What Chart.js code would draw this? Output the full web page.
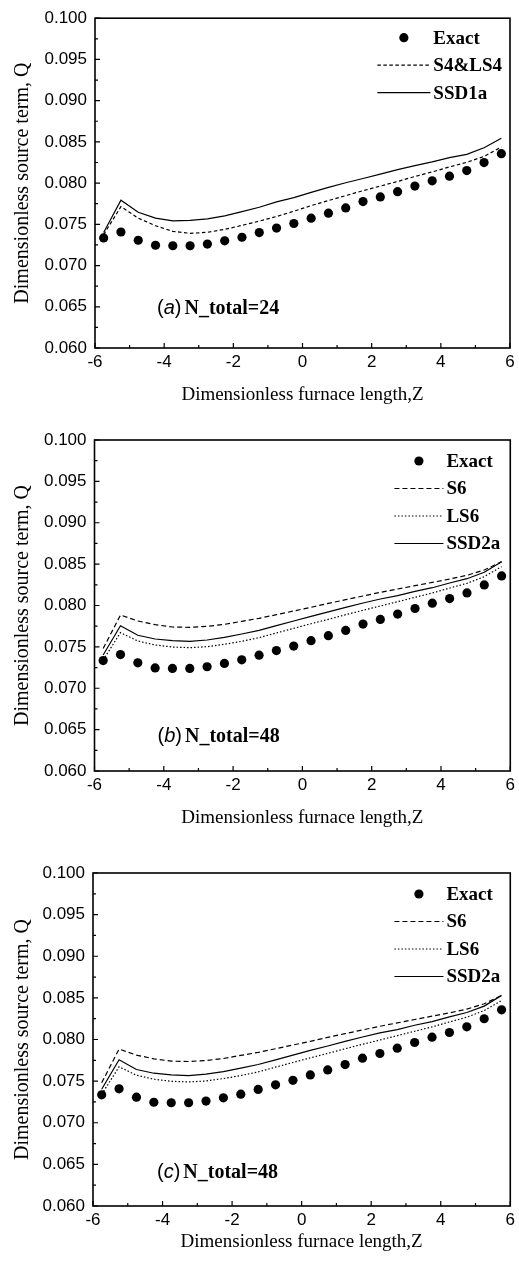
<!DOCTYPE html>
<html>
<head>
<meta charset="utf-8">
<script src="https://cdn.jsdelivr.net/npm/chart.js@4.4.1/dist/chart.umd.min.js"></script>
<style>
  html, body { margin: 0; padding: 0; background: #fff; }
  body { width: 519px; height: 1262px; position: relative; overflow: hidden; }
  .panel { position: absolute; left: 0; width: 519px; }
</style>
</head>
<body>
<div class="panel" style="top:0;height:420px"><canvas id="chart-a"></canvas></div>
<div class="panel" style="top:420px;height:420px"><canvas id="chart-b"></canvas></div>
<div class="panel" style="top:840px;height:422px"><canvas id="chart-c"></canvas></div>
<script>
// cell centres along the furnace
const zCells = [-5.75, -5.25, -4.75, -4.25, -3.75, -3.25, -2.75, -2.25, -1.75, -1.25, -0.75, -0.25,
                0.25, 0.75, 1.25, 1.75, 2.25, 2.75, 3.25, 3.75, 4.25, 4.75, 5.25, 5.75];

const exactQ = [0.07335, 0.07407, 0.07307, 0.07246, 0.0724, 0.0724, 0.0726, 0.0730, 0.07343, 0.0740, 0.07455, 0.0751,
                0.07575, 0.07635, 0.07699, 0.07776, 0.07832, 0.07896, 0.07964, 0.08028, 0.08084, 0.08152, 0.08249, 0.08357];
const s4ls4Q = [0.07375, 0.07715, 0.07575, 0.07483, 0.07415, 0.07391, 0.07403, 0.07439, 0.07487, 0.07539, 0.07595, 0.07659,
                0.07727, 0.07788, 0.07848, 0.07908, 0.07964, 0.0802, 0.0808, 0.08136, 0.08196, 0.08252, 0.08324, 0.08437];
const ssd1aQ = [0.0740, 0.07792, 0.07647, 0.07575, 0.07543, 0.07547, 0.07567, 0.07603, 0.07655, 0.07707, 0.07772, 0.07824,
                0.07888, 0.07948, 0.08004, 0.08056, 0.08108, 0.08164, 0.08212, 0.08257, 0.08309, 0.08349, 0.08429, 0.08545];
const s6Q    = [0.0748, 0.07885, 0.07813, 0.07768, 0.0774, 0.07736, 0.07748, 0.07772, 0.07809, 0.07845, 0.07889, 0.07934,
                0.07978, 0.08026, 0.0807, 0.08115, 0.08159, 0.08199, 0.0824, 0.0828, 0.0832, 0.08365, 0.08429, 0.0853];
const ls6Q   = [0.07341, 0.07672, 0.07571, 0.07523, 0.07498, 0.0749, 0.07502, 0.07531, 0.07567, 0.07611, 0.07668, 0.07724,
                0.0778, 0.07833, 0.07889, 0.07942, 0.07994, 0.08046, 0.08099, 0.08151, 0.08211, 0.08268, 0.08348, 0.08469];
const ssd2aQ = [0.07402, 0.07756, 0.0764, 0.07595, 0.07575, 0.07567, 0.07583, 0.07615, 0.07656, 0.077, 0.07756, 0.07813,
                0.07869, 0.07922, 0.07978, 0.0803, 0.08079, 0.08119, 0.08171, 0.08215, 0.08272, 0.08324, 0.08401, 0.0853];

const xTicks = [-6, -4, -2, 0, 2, 4, 6];
const xMinor = [-5, -3, -1, 1, 3, 5];
const yTicks = [0.060, 0.065, 0.070, 0.075, 0.080, 0.085, 0.090, 0.095, 0.100];
const yMinor = [0.0625, 0.0675, 0.0725, 0.0775, 0.0825, 0.0875, 0.0925, 0.0975];

const pts = arr => zCells.map((z, i) => ({ x: z, y: arr[i] }));

const exactSet = () => ({ label: 'Exact', data: pts(exactQ), showLine: false, pointRadius: 4.6,
    pointBackgroundColor: '#000', pointBorderWidth: 0, order: 0 });
const lineSet = (label, arr, dash) => ({ label, data: pts(arr), borderColor: '#000', borderWidth: 1.2,
    borderDash: dash, pointRadius: 0, fill: false, tension: 0, order: 1 });

// frame + inward major/minor tick marks
const frameTicks = {
    id: 'frameTicks',
    afterDatasetsDraw(chart) {
        const { ctx, chartArea: a, scales: { x, y } } = chart;
        ctx.save();
        ctx.strokeStyle = '#000';
        ctx.lineWidth = 1.2;
        ctx.beginPath();
        xTicks.forEach(v => { const p = x.getPixelForValue(v); ctx.moveTo(p, a.bottom); ctx.lineTo(p, a.bottom - 5); });
        xMinor.forEach(v => { const p = x.getPixelForValue(v); ctx.moveTo(p, a.bottom); ctx.lineTo(p, a.bottom - 3); });
        yTicks.forEach(v => { const p = y.getPixelForValue(v); ctx.moveTo(a.left, p); ctx.lineTo(a.left + 5, p); });
        yMinor.forEach(v => { const p = y.getPixelForValue(v); ctx.moveTo(a.left, p); ctx.lineTo(a.left + 3, p); });
        ctx.stroke();
        ctx.lineWidth = 1.6;
        ctx.strokeRect(a.left, a.top, a.right - a.left, a.bottom - a.top);
        ctx.restore();
    }
};

// legend block in the upper right corner
const figLegend = {
    id: 'figLegend',
    afterDatasetsDraw(chart, args, opts) {
        const { ctx, chartArea: a } = chart;
        const sets = chart.data.datasets;
        ctx.save();
        ctx.font = 'bold 19px "Liberation Serif"';
        ctx.textBaseline = 'middle';
        ctx.fillStyle = '#000';
        const maxW = Math.max(...sets.map(d => ctx.measureText(d.label).width));
        const tx = a.right - opts.rightGap - maxW;
        sets.forEach((d, i) => {
            const y = a.top + opts.firstRow + i * opts.rowStep;
            const x0 = tx - opts.sampleLen - 3, x1 = tx - 3;
            if (d.showLine === false) {
                ctx.beginPath();
                ctx.arc((x0 + x1) / 2, y, 4.6, 0, Math.PI * 2);
                ctx.fill();
            } else {
                ctx.beginPath();
                ctx.lineWidth = 1.2;
                ctx.strokeStyle = '#000';
                ctx.setLineDash(d.borderDash || []);
                ctx.moveTo(x0, y);
                ctx.lineTo(x1, y);
                ctx.stroke();
                ctx.setLineDash([]);
            }
            ctx.fillText(d.label, tx, y + 1);
        });
        ctx.restore();
    }
};

// panel tag, e.g. "(a) N_total=24"
const panelTag = {
    id: 'panelTag',
    afterDatasetsDraw(chart, args, opts) {
        const { ctx, chartArea: a } = chart;
        let x = a.left + opts.dx;
        const y = a.bottom - opts.dy;
        ctx.save();
        ctx.fillStyle = '#000';
        ctx.textBaseline = 'middle';
        ctx.font = '20px "Liberation Sans"';
        ctx.fillText('(', x, y); x += ctx.measureText('(').width;
        ctx.font = 'italic 20px "Liberation Sans"';
        ctx.fillText(opts.letter, x, y); x += ctx.measureText(opts.letter).width;
        ctx.font = '20px "Liberation Sans"';
        ctx.fillText(')', x, y); x += ctx.measureText(')').width + 3;
        ctx.font = 'bold 20px "Liberation Serif"';
        ctx.fillText(opts.text, x, y + 1);
        ctx.restore();
    }
};

function makePanel(id, datasets, box, legendOpts, tagOpts) {
    new Chart(document.getElementById(id), {
        type: 'line',
        data: { datasets },
        plugins: [frameTicks, figLegend, panelTag],
        options: {
            responsive: true,
            maintainAspectRatio: false,
            animation: false,
            layout: { padding: { top: box.top, right: box.right, left: 0, bottom: 0 } },
            plugins: {
                legend: { display: false },
                tooltip: { enabled: false },
                figLegend: legendOpts,
                panelTag: tagOpts
            },
            scales: {
                x: {
                    type: 'linear', min: -6, max: 6,
                    afterBuildTicks: s => { s.ticks = xTicks.map(v => ({ value: v })); },
                    afterFit: s => { s.height = box.xHeight; },
                    grid: { display: false, drawTicks: false },
                    border: { display: false },
                    ticks: { color: '#000', padding: 4, maxRotation: 0, autoSkip: false,
                             font: { family: 'Liberation Sans', size: 17 } },
                    title: { display: true, text: 'Dimensionless furnace length,Z', color: '#000',
                             font: { family: 'Liberation Serif', size: 19 },
                             padding: { top: 0, bottom: box.xTitlePad } }
                },
                y: {
                    type: 'linear', min: 0.06, max: 0.1,
                    afterBuildTicks: s => { s.ticks = yTicks.map(v => ({ value: v })); },
                    afterFit: s => { s.width = box.left; },
                    grid: { display: false, drawTicks: false },
                    border: { display: false },
                    ticks: { color: '#000', padding: 8, autoSkip: false,
                             font: { family: 'Liberation Sans', size: 17 },
                             callback: v => v.toFixed(3) },
                    title: { display: true, text: 'Dimensionless source term, Q', color: '#000',
                             font: { family: 'Liberation Serif', size: 20 },
                             padding: { top: 11, bottom: 0 } }
                }
            }
        }
    });
}

makePanel('chart-a',
    [exactSet(), lineSet('S4&LS4', s4ls4Q, [3.5, 2.5]), lineSet('SSD1a', ssd1aQ, [])],
    { top: 15, right: 9, left: 95, xHeight: 72, xTitlePad: 13.5 },
    { rightGap: 8, firstRow: 19.5, rowStep: 27.5, sampleLen: 53 },
    { dx: 62, dy: 40, letter: 'a', text: 'N_total=24' });

makePanel('chart-b',
    [exactSet(), lineSet('S6', s6Q, [5, 3]), lineSet('LS6', ls6Q, [1.5, 2]), lineSet('SSD2a', ssd2aQ, [])],
    { top: 20, right: 6, left: 94.5, xHeight: 69, xTitlePad: 10.5 },
    { rightGap: 10, firstRow: 21, rowStep: 27.5, sampleLen: 49 },
    { dx: 63, dy: 35, letter: 'b', text: 'N_total=48' });

makePanel('chart-c',
    [exactSet(), lineSet('S6', s6Q, [5, 3]), lineSet('LS6', ls6Q, [1.5, 2]), lineSet('SSD2a', ssd2aQ, [])],
    { top: 33, right: 4, left: 93, xHeight: 56, xTitlePad: 9 },
    { rightGap: 10, firstRow: 21, rowStep: 27.5, sampleLen: 49 },
    { dx: 64, dy: 34, letter: 'c', text: 'N_total=48' });
</script>
</body>
</html>
